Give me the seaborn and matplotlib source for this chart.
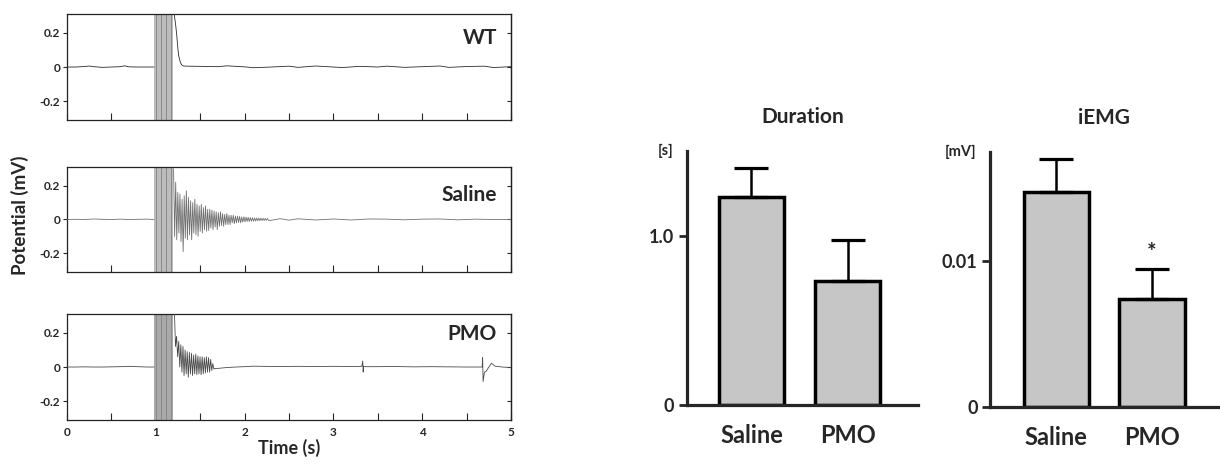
import numpy as np
import matplotlib
matplotlib.use("Agg")
import matplotlib.pyplot as plt
import seaborn as sns

# ---- EMG traces ----
# stimulation train
stim_start = 0.98
stim_end = 1.19
stim_pulses = [1.0, 1.06, 1.12, 1.17]

# WT
wt_pre_t = [0.0, 0.1, 0.2, 0.25, 0.3, 0.4, 0.5, 0.6, 0.65, 0.7, 0.8, 0.9, 0.98]
wt_pre_v = [0.0, 0.0, 0.003, 0.006, 0.002, -0.002, 0.0, 0.002, 0.007, 0.001, 0.0, 0.0, 0.0]
wt_resp_t = [1.20, 1.21, 1.225, 1.235, 1.25, 1.26, 1.275, 1.29, 1.31, 1.35]
wt_resp_v = [0.35, 0.30, 0.24, 0.19, 0.10, 0.06, 0.03, 0.013, 0.006, 0.005]
wt_post_t = [1.5, 1.7, 1.8, 2.0, 2.1, 2.3, 2.5, 2.6, 2.8, 3.0, 3.1, 3.3, 3.5,
             3.6, 3.8, 4.0, 4.2, 4.3, 4.5, 4.7, 4.8, 5.0]
wt_post_v = [0.004, 0.002, 0.007, 0.001, -0.004, 0.0, 0.005, -0.002, 0.006, 0.0,
             -0.003, 0.004, 0.0, 0.005, -0.002, 0.002, 0.006, -0.002, 0.003, 0.005, -0.003, 0.002]

# Saline
sal_pre_t = [0.0, 0.1, 0.2, 0.3, 0.4, 0.5, 0.6, 0.7, 0.8, 0.9, 0.98]
sal_pre_v = [0.0, 0.001, 0.0, 0.003, 0.001, 0.0, 0.002, 0.0, 0.001, 0.002, 0.0]
sal_resp_start = 1.20
sal_resp_dt = 0.012
sal_resp_v = [0.30, -0.10, 0.22, -0.12, 0.16, -0.08, 0.15, -0.13, 0.12, -0.19,
              0.14, -0.11, 0.17, -0.12, 0.13, -0.09, 0.11, -0.12, 0.10, -0.08,
              0.12, -0.09, 0.09, -0.10, 0.08, -0.07, 0.09, -0.08, 0.07, -0.06,
              0.08, -0.07, 0.06, -0.065, 0.06, -0.05, 0.055, -0.06, 0.05, -0.045,
              0.045, -0.06, 0.04, -0.04, 0.045, -0.035, 0.035, -0.04, 0.03, -0.03,
              0.035, -0.03, 0.025, -0.03, 0.025, -0.02, 0.025, -0.025, 0.02, -0.02,
              0.02, -0.018, 0.018, -0.02, 0.015, -0.015, 0.016, -0.014, 0.014, -0.012,
              0.013, -0.012, 0.011, -0.01, 0.01, -0.01, 0.009, -0.009, 0.008, -0.008,
              0.008, -0.007, 0.007, -0.006, 0.007, -0.006, 0.006, -0.005, 0.006, -0.005]
sal_post_t = [2.3, 2.4, 2.5, 2.6, 2.8, 3.0, 3.2, 3.4, 3.6, 3.8, 4.0, 4.2, 4.4, 4.6, 4.8, 5.0]
sal_post_v = [-0.005, 0.005, -0.004, 0.004, -0.003, 0.003, -0.003, 0.003,
              0.002, -0.002, 0.002, 0.003, -0.002, 0.002, 0.0, 0.0]

# PMO
pmo_pre_t = [0.0, 0.1, 0.2, 0.3, 0.4, 0.5, 0.6, 0.7, 0.8, 0.9, 0.98]
pmo_pre_v = [0.0, 0.0, 0.001, 0.0, 0.0, 0.001, 0.002, 0.004, 0.002, 0.0, 0.0]
pmo_resp_start = 1.21
pmo_resp_dt = 0.012
pmo_resp_v = [0.32, 0.12, 0.18, 0.06, 0.15, 0.0, 0.13, -0.03, 0.12, -0.05,
              0.10, -0.04, 0.09, -0.06, 0.085, -0.04, 0.08, -0.05, 0.07, -0.04,
              0.075, -0.045, 0.065, -0.04, 0.06, -0.045, 0.06, -0.04, 0.055, -0.035,
              0.06, -0.03, 0.055, -0.03, 0.045, -0.02, 0.02, -0.012, -0.008, -0.01]
pmo_post_t = [1.7, 1.8, 1.9, 2.0, 2.1, 2.2, 2.4, 2.6, 2.8, 3.0, 3.2, 3.32, 3.33, 3.335,
              3.34, 3.36, 3.5, 3.7, 3.9, 4.1, 4.3, 4.5, 4.6, 4.675, 4.68, 4.685, 4.7,
              4.72, 4.75, 4.78, 4.82, 4.9, 5.0]
pmo_post_v = [-0.008, -0.003, 0.0, 0.002, 0.005, 0.004, 0.003, 0.004, 0.003, 0.004,
              0.003, 0.004, 0.035, -0.03, 0.005, 0.002, 0.002, 0.003, 0.001, 0.002,
              0.001, 0.0, 0.0, 0.0, 0.055, -0.085, -0.03, -0.025, 0.0, 0.022, 0.005,
              0.0, -0.003]

trace_names = ["WT", "Saline", "PMO"]
trace_label_y = [0.77, 0.73, 0.81]

# ---- bar data ----
groups = ["Saline", "PMO"]
duration_mean = [1.23, 0.734]
duration_err = [0.17, 0.241]
iemg_mean = [0.01476, 0.00737]
iemg_err = [0.00224, 0.00206]


sal_resp_t = sal_resp_start + sal_resp_dt * np.arange(len(sal_resp_v))
pmo_resp_t = pmo_resp_start + pmo_resp_dt * np.arange(len(pmo_resp_v))
# (pre-stimulus segment, post-stimulus segment) per trace
traces = [
    ((wt_pre_t, wt_pre_v), (np.concatenate([wt_resp_t, wt_post_t]), np.concatenate([wt_resp_v, wt_post_v]))),
    ((sal_pre_t, sal_pre_v), (np.concatenate([sal_resp_t, sal_post_t]), np.concatenate([sal_resp_v, sal_post_v]))),
    ((pmo_pre_t, pmo_pre_v), (np.concatenate([pmo_resp_t, pmo_post_t]), np.concatenate([pmo_resp_v, pmo_post_v]))),
]

sns.set_style("ticks")
plt.rcParams['font.family'] = ['Lato', 'DejaVu Sans']
plt.rcParams['font.weight'] = 'bold'

fig = plt.figure(figsize=(12.2, 4.74), dpi=100)

panel_boxes = [
    [0.0549, 0.7468, 0.364, 0.2236],
    [0.0549, 0.4262, 0.364, 0.2215],
    [0.0549, 0.1139, 0.364, 0.2236],
]
block_colors = ["#bcbcbc", "#bcbcbc", "#a9a9a9"]
line_colors = ["#2a2a2a", "#707070", "#4a4a4a"]

for i, segs in enumerate(traces):
    ax = fig.add_axes(panel_boxes[i])
    ax.axvspan(stim_start, stim_end, color=block_colors[i], lw=0, zorder=1)
    ax.vlines(stim_pulses, -0.31, 0.31, color="#8a8a8a", lw=0.7, zorder=2)
    for t, v in segs:
        sns.lineplot(x=t, y=v, ax=ax, color=line_colors[i], lw=0.6,
                     estimator=None, sort=False, zorder=3)
    ax.set_xlim(0, 5)
    ax.set_ylim(-0.31, 0.31)
    ax.set_yticks([-0.2, 0, 0.2])
    ax.set_yticklabels(["-0.2", "0", "0.2"], fontsize=8.5, fontweight='bold')
    ax.set_xticks([0, 1, 2, 3, 4, 5])
    ax.set_xticks(np.arange(0.5, 5, 1.0), minor=True)
    ax.tick_params(axis='x', which='both', direction='in', length=5, width=0.8,
                   labelsize=8.5, pad=5)
    ax.tick_params(axis='y', direction='out', length=3, width=0.8, pad=2)
    if i < 2:
        ax.set_xticklabels([])
    else:
        ax.set_xticklabels([str(k) for k in range(6)], fontweight='bold')
    sec = ax.secondary_yaxis('right')
    sec.set_yticks([-0.2, 0, 0.2])
    sec.tick_params(direction='in', length=3, width=0.8, labelright=False)
    for sp in ax.spines.values():
        sp.set_linewidth(0.9)
        sp.set_color("#222222")
    sec.spines['right'].set_linewidth(0.9)
    ax.text(0.968, trace_label_y[i], trace_names[i], transform=ax.transAxes,
            ha='right', va='center', fontsize=15, fontweight='bold')
    ax.set_xlabel("")
    ax.set_ylabel("")

fig.text(0.016, 0.545, "Potential (mV)", rotation=90, ha='center', va='center',
         fontsize=13.5, fontweight='bold')
fig.text(0.237, 0.055, "Time (s)", ha='center', va='center',
         fontsize=13, fontweight='bold')

bar_color = "#c6c6c6"


def bar_panel(box, means, errs, ylim, yticks, yticklabels, title, unit):
    ax = fig.add_axes(box)
    sns.barplot(x=groups, y=means, ax=ax, color=bar_color, saturation=1,
                edgecolor="black", linewidth=2.5, width=0.68, errorbar=None)
    ax.errorbar(x=[0, 1], y=means, yerr=[[0, 0], errs], fmt='none',
                ecolor='black', elinewidth=1.8, capsize=12, capthick=2.3, zorder=5)
    ax.set_ylim(*ylim)
    ax.set_yticks(yticks)
    ax.set_yticklabels(yticklabels, fontsize=13, fontweight='bold')
    ax.tick_params(axis='y', direction='out', length=6, width=2, pad=3)
    ax.tick_params(axis='x', length=0, labelsize=17, pad=14)
    for lab in ax.get_xticklabels():
        lab.set_fontweight('bold')
    sns.despine(ax=ax)
    ax.spines['left'].set_linewidth(2.3)
    ax.spines['bottom'].set_linewidth(2.3)
    ax.set_title(title, fontsize=15, fontweight='bold', pad=20)
    ax.text(-0.06, 1.0, unit, transform=ax.transAxes, ha='right', va='center',
            fontsize=10.5, fontweight='bold')
    return ax


ax_d = bar_panel([0.5631, 0.1456, 0.1893, 0.5359], duration_mean, duration_err,
                 (0, 1.5), [0, 1.0], ["0", "1.0"], "Duration", "[s]")
ax_d.set_xlim(-0.67, 1.73)

ax_i = bar_panel([0.8115, 0.142, 0.187, 0.538], iemg_mean, iemg_err,
                 (0, 0.0175), [0, 0.01], ["0", "0.01"], "iEMG", "[mV]")
ax_i.set_xlim(-0.69, 1.69)
ax_i.text(1, iemg_mean[1] + iemg_err[1] + 0.0004, "*", ha='center', va='bottom',
          fontsize=16, fontweight='bold')

fig.savefig("out.png", dpi=100)
